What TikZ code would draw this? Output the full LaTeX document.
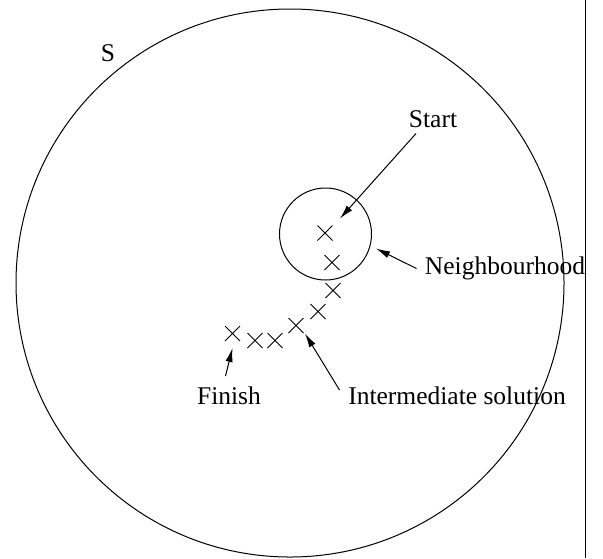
\documentclass[tikz,border=0pt]{standalone}
\usepackage{fontspec}
\setmainfont{Liberation Serif}
\usetikzlibrary{shapes.misc,arrows.meta}
\begin{document}
\begin{tikzpicture}[x=0.5pt,y=-0.5pt,
  every path/.style={line width=0.5pt},
  lbl/.style={font=\fontsize{12.75}{15}\selectfont, inner sep=0pt},
  xmark/.style={cross out, draw, minimum size=7pt, inner sep=0pt, line width=0.5pt},
  arr/.style={-{Latex[length=7pt,width=3.6pt]}}]
\useasboundingbox (0,0) rectangle (603,558);
% outer set
\node[circle, draw, minimum size=548*0.5pt, inner sep=0pt] (S) at (290,283) {};
\node[lbl] (Slbl) at (108,53) {S};
% right vertical line
\coordinate (vt) at (585,0);
\coordinate (vb) at (585,558);
\draw (vt) -- (vb);
% neighbourhood circle
\node[circle, draw, minimum size=46pt, inner sep=0pt] (N) at (325.5,234) {};
% solutions
\node[xmark] (x1) at (325,233) {};
\node[xmark] (x2) at (332,262.5) {};
\node[xmark] (x3) at (333,290.5) {};
\node[xmark] (x4) at (318,311.5) {};
\node[xmark] (x5) at (296,325.5) {};
\node[xmark] (x6) at (275,340.5) {};
\node[xmark] (x7) at (255,340.5) {};
\node[xmark] (x8) at (232.5,333.5) {};
% labels
\node[lbl] (start) at (433,119) {Start};
\node[lbl] (neigh) at (505,268) {Neighbourhood};
\node[lbl] (finish) at (229,396) {Finish};
\node[lbl] (inter) at (457,396) {Intermediate solution};
% arrow ends
\coordinate (st0) at (416,133.5);
\coordinate (st1) at (340,218.5);
\coordinate (ne0) at (416.5,268.5);
\coordinate (ne1) at (376,248.5);
\coordinate (fi0) at (225.5,376);
\coordinate (fi1) at (232.5,348);
\coordinate (in0) at (339.5,390);
\coordinate (in1) at (305,333.5);
\draw[arr] (st0) -- (st1);
\draw[arr] (ne0) -- (ne1);
\draw[arr] (fi0) -- (fi1);
\draw[arr] (in0) -- (in1);
\end{tikzpicture}
\end{document}
